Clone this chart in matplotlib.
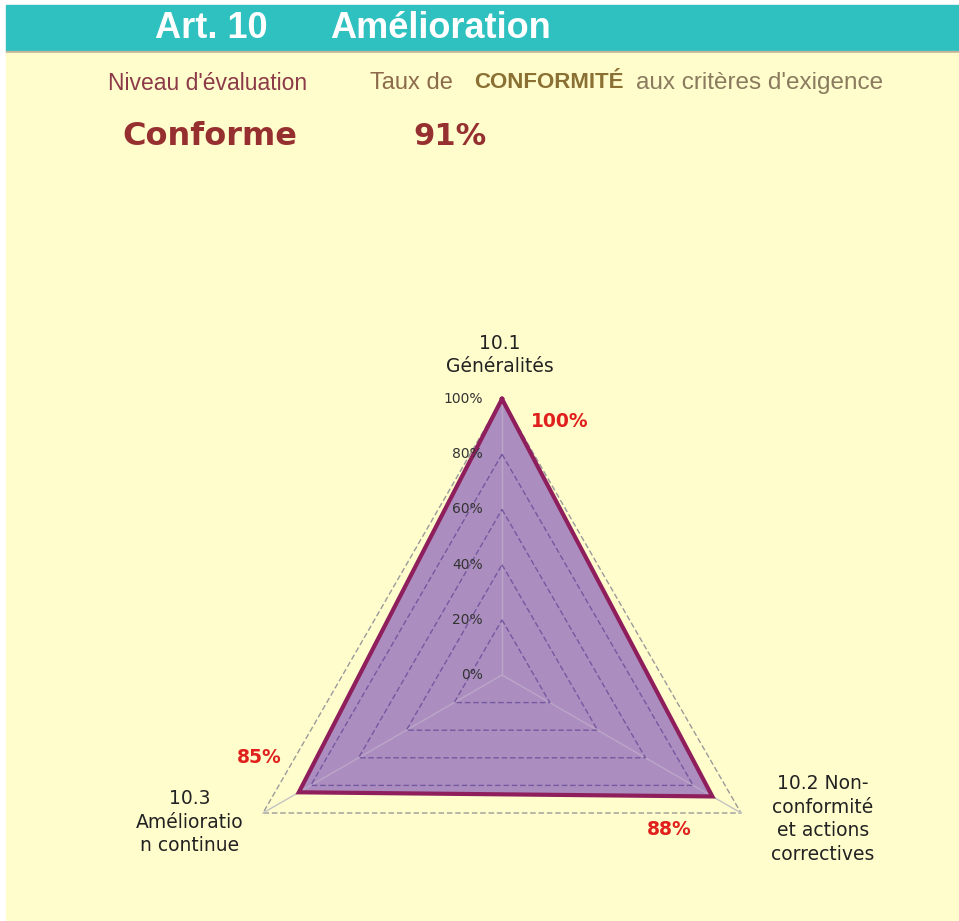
import numpy as np
import matplotlib
matplotlib.use('Agg')
import matplotlib.pyplot as plt
from matplotlib.patches import Rectangle

# data
categories = ['10.1\nGénéralités', '10.2 Non-\nconformité\net actions\ncorrectives', '10.3\nAmélioratio\nn continue']
values = [100, 88, 85]
value_labels = ['100%', '88%', '85%']
rings = [0, 20, 40, 60, 80, 100]
title_art = 'Art. 10'
title_name = 'Amélioration'
level = 'Conforme'
rate = '91%'

W, H = 959, 921
fig = plt.figure(figsize=(W / 100, H / 100), dpi=100)
fig.patch.set_facecolor('white')


def px(x, y):
    return x / W, 1 - y / H


# background panels
fig.patches.append(Rectangle(px(6, 51), (W - 6) / W, 46 / H, transform=fig.transFigure, color='#2fc1bf', zorder=-10))
fig.patches.append(Rectangle(px(6, 53), (W - 6) / W, 2 / H, transform=fig.transFigure, color='#c2b49a', zorder=-10))
fig.patches.append(Rectangle(px(6, H), (W - 6) / W, (H - 53) / H, transform=fig.transFigure, color='#fffdcc', zorder=-10))

# header
fig.text(*px(155, 28), title_art, color='white', fontsize=26, fontweight='bold',
         family='Liberation Sans', va='center', ha='left')
fig.text(*px(330, 28), title_name, color='white', fontsize=26, fontweight='bold',
         family='Liberation Sans', va='center', ha='left')

fig.text(*px(108, 83), "Niveau d'évaluation", color='#8c3a48', fontsize=16.5,
         family='Liberation Sans', va='center', ha='left')
fig.text(*px(370, 83), 'Taux de', color='#8c6a4c', fontsize=17,
         family='Liberation Sans', va='center', ha='left')
fig.text(*px(474, 83), 'CONFORMITÉ', color='#8a7032', fontsize=16, fontweight='bold',
         family='Liberation Sans', va='center', ha='left')
fig.text(*px(636, 83), "aux critères d'exigence", color='#8a7a5e', fontsize=17.5,
         family='Liberation Sans', va='center', ha='left')

fig.text(*px(210, 136), level, color='#963030', fontsize=23, fontweight='bold',
         va='center', ha='center')
fig.text(*px(450, 136), rate, color='#963030', fontsize=22, fontweight='bold',
         va='center', ha='center')

# radar
cx, cy, R = 502, 675, 276
ax = fig.add_axes([(cx - R) / W, (H - cy - R) / H, 2 * R / W, 2 * R / H], projection='polar')
ax.set_theta_offset(np.pi / 2)
ax.set_theta_direction(-1)
ax.set_ylim(0, 100)
ax.axis('off')

n = len(values)
angles = np.linspace(0, 2 * np.pi, n, endpoint=False)
closed = np.append(angles, angles[0])

# outer ring and spokes
ax.plot(closed, [rings[-1]] * (n + 1), color='#9a9a9a', lw=1, ls=(0, (4, 2)), zorder=1, clip_on=False)
for a in angles:
    ax.plot([a, a], [0, rings[-1]], color='#c4c4c4', lw=1, zorder=1, clip_on=False)

# data polygon
vals = np.append(values, values[0])
ax.fill(closed, vals, color='#ab8ebf', zorder=2, clip_on=False)
for a, v in zip(angles, values):
    ax.plot([a, a], [0, v], color='#bba6c8', lw=1, zorder=3, clip_on=False)
for r in rings[1:-1]:
    ax.plot(closed, [r] * (n + 1), color='#7558a0', lw=1, ls=(0, (4, 2)), zorder=3, clip_on=False)
ax.plot(closed, vals, color='#8e1f5c', lw=3, zorder=4, clip_on=False, solid_joinstyle='miter')

# radial tick labels
for r in rings:
    ax.annotate(f'{r}%', xy=(0, r), xytext=(-19, 0), textcoords='offset pixels',
                ha='right', va='center', fontsize=10, color='#333333', zorder=5,
                annotation_clip=False)

# value labels
value_offsets = [(58, -22), (-43, -33), (-40, 35)]
for a, v, lab, off in zip(angles, values, value_labels, value_offsets):
    ax.annotate(lab, xy=(a, v), xytext=off, textcoords='offset pixels',
                ha='center', va='center', fontsize=13.5, fontweight='bold',
                color='#e0201c', zorder=5, annotation_clip=False)

# category labels
cat_offsets = [(-2, 44), (82, -6), (-73, -9)]
for a, lab, off in zip(angles, categories, cat_offsets):
    ax.annotate(lab, xy=(a, rings[-1]), xytext=off, textcoords='offset pixels',
                ha='center', va='center', fontsize=13.5, color='#222222',
                linespacing=1.3, zorder=5, annotation_clip=False)

fig.savefig('out.png', dpi=100, facecolor=fig.get_facecolor())
